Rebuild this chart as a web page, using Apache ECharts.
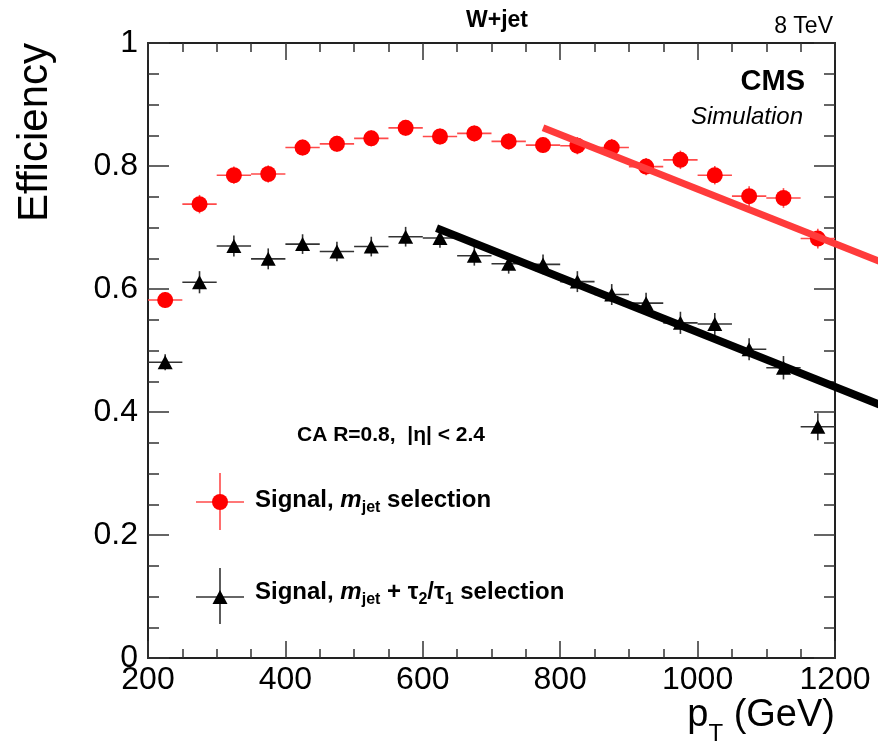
<!DOCTYPE html>
<html>
<head>
<meta charset="utf-8">
<script src="https://cdn.jsdelivr.net/npm/echarts@6/dist/echarts.min.js"></script>
<style>
html,body{margin:0;padding:0;background:#fff;}
#chart{width:878px;height:750px;}
</style>
</head>
<body>
<div id="chart"></div>
<script>
// ---- data ----
const pt = [225, 275, 325, 375, 425, 475, 525, 575, 625, 675, 725, 775, 825, 875, 925, 975, 1025, 1075, 1125, 1175];
const binHalfWidth = 25;
const effMjet = [0.582, 0.738, 0.785, 0.787, 0.830, 0.836, 0.845, 0.862, 0.848, 0.853, 0.840, 0.834, 0.833, 0.830, 0.799, 0.810, 0.785, 0.751, 0.748, 0.682];
const errMjet = [0.013, 0.015, 0.014, 0.014, 0.013, 0.013, 0.013, 0.013, 0.013, 0.013, 0.013, 0.013, 0.014, 0.014, 0.014, 0.015, 0.015, 0.016, 0.016, 0.016];
const effMjetTau = [0.481, 0.611, 0.670, 0.649, 0.673, 0.661, 0.669, 0.685, 0.683, 0.654, 0.641, 0.640, 0.612, 0.591, 0.577, 0.545, 0.543, 0.502, 0.472, 0.376];
const errMjetTau = [0.013, 0.018, 0.017, 0.017, 0.016, 0.016, 0.016, 0.016, 0.016, 0.016, 0.016, 0.016, 0.017, 0.017, 0.017, 0.018, 0.018, 0.018, 0.019, 0.022];
const fitMjetX = [775, 1265];
const fitMjetY = [0.862, 0.645];
const fitTauX = [620, 1265];
const fitTauY = [0.699, 0.412];
const xMin = 200, xMax = 1200, xStep = 200;
const yMin = 0, yMax = 1, yStep = 0.2;

const FONT = '"Liberation Sans", Arial, Helvetica, sans-serif';
const chart = echarts.init(document.getElementById('chart'), null, {renderer: 'canvas'});

function errRender(color, width) {
  return function (params, api) {
    const x = api.value(0), y = api.value(1), e = api.value(2);
    const l = api.coord([x - binHalfWidth, y]);
    const r = api.coord([x + binHalfWidth, y]);
    const t = api.coord([x, y + e]);
    const b = api.coord([x, y - e]);
    return {
      type: 'group',
      children: [
        {type: 'line', shape: {x1: l[0], y1: l[1], x2: r[0], y2: r[1]}, style: {stroke: color, lineWidth: width}},
        {type: 'line', shape: {x1: t[0], y1: t[1], x2: b[0], y2: b[1]}, style: {stroke: color, lineWidth: width}}
      ]
    };
  };
}

function fitRender(color, width) {
  return function (params, api) {
    const p1 = api.coord([api.value(0), api.value(1)]);
    const p2 = api.coord([api.value(2), api.value(3)]);
    return {
      type: 'line',
      shape: {x1: p1[0], y1: p1[1], x2: p2[0], y2: p2[1]},
      style: {stroke: color, lineWidth: width, lineCap: 'butt'}
    };
  };
}

const axisLineStyle = {color: '#222', width: 2};
const tickStyle = {color: '#333', width: 1.5};

const legendRich = {
  b: {fontFamily: FONT, fontWeight: 'bold', fontSize: 24, color: '#000'},
  i: {fontFamily: FONT, fontWeight: 'bold', fontStyle: 'italic', fontSize: 24, color: '#000'},
  s: {fontFamily: FONT, fontWeight: 'bold', fontSize: 16, color: '#000', padding: [16, 0, 0, 0]}
};

const option = {
  animation: false,
  backgroundColor: '#fff',
  title: {
    text: 'W+jet',
    left: 497,
    top: 9,
    padding: 0,
    textAlign: 'center',
    textStyle: {fontFamily: FONT, fontWeight: 'bold', fontSize: 23, color: '#000'}
  },
  grid: {left: 148, right: 43, top: 43, bottom: 92, containLabel: false, outerBoundsMode: 'none'},
  xAxis: [
    {
      type: 'value', min: xMin, max: xMax, interval: xStep, position: 'bottom',
      name: '{p|p}{s|T}{p| (GeV)}',
      nameLocation: 'end', nameGap: 0,
      nameTextStyle: {
        align: 'right', verticalAlign: 'top', padding: [28, 0, 0, 0],
        rich: {
          p: {fontFamily: FONT, fontSize: 38, color: '#000'},
          s: {fontFamily: FONT, fontSize: 24, color: '#000', padding: [36, 0, 0, 0]}
        }
      },
      axisLine: {show: true, onZero: false, lineStyle: axisLineStyle},
      axisTick: {show: true, inside: true, length: 17, lineStyle: tickStyle},
      minorTick: {show: true, splitNumber: 4, length: 9, lineStyle: tickStyle},
      axisLabel: {show: true, margin: 6, fontFamily: FONT, fontSize: 32, color: '#000', formatter: v => String(v)},
      splitLine: {show: false}
    },
    {
      type: 'value', min: xMin, max: xMax, interval: xStep, position: 'top',
      axisLine: {show: true, onZero: false, lineStyle: axisLineStyle},
      axisTick: {show: true, inside: true, length: 17, lineStyle: tickStyle},
      minorTick: {show: true, splitNumber: 4, length: 9, lineStyle: tickStyle},
      axisLabel: {show: false},
      splitLine: {show: false}
    }
  ],
  yAxis: [
    {
      type: 'value', min: yMin, max: yMax, interval: yStep, position: 'left',
      name: 'Efficiency',
      nameLocation: 'end', nameGap: 0, nameRotate: 90,
      nameTextStyle: {
        fontFamily: FONT, fontSize: 42, color: '#000',
        align: 'right', verticalAlign: 'bottom', padding: [0, 0, 92, 0]
      },
      axisLine: {show: true, onZero: false, lineStyle: axisLineStyle},
      axisTick: {show: true, inside: true, length: 21, lineStyle: tickStyle},
      minorTick: {show: true, splitNumber: 4, length: 11, lineStyle: tickStyle},
      axisLabel: {show: true, margin: 10, fontFamily: FONT, fontSize: 32, color: '#000', formatter: v => String(v)},
      splitLine: {show: false}
    },
    {
      type: 'value', min: yMin, max: yMax, interval: yStep, position: 'right',
      axisLine: {show: true, onZero: false, lineStyle: axisLineStyle},
      axisTick: {show: true, inside: true, length: 21, lineStyle: tickStyle},
      minorTick: {show: true, splitNumber: 4, length: 11, lineStyle: tickStyle},
      axisLabel: {show: false},
      splitLine: {show: false}
    }
  ],
  series: [
    {
      name: 'err mjet', type: 'custom', xAxisIndex: 0, yAxisIndex: 0, z: 2,
      renderItem: errRender('#ff4a4a', 1.6),
      encode: {x: 0, y: 1},
      data: pt.map((x, i) => [x, effMjet[i], errMjet[i]])
    },
    {
      name: 'err mjet tau', type: 'custom', xAxisIndex: 0, yAxisIndex: 0, z: 2,
      renderItem: errRender('#333', 1.6),
      encode: {x: 0, y: 1},
      data: pt.map((x, i) => [x, effMjetTau[i], errMjetTau[i]])
    },
    {
      name: 'Signal, mjet selection', type: 'scatter', z: 3,
      symbol: 'circle', symbolSize: 16,
      itemStyle: {color: '#ff0000', opacity: 1},
      data: pt.map((x, i) => [x, effMjet[i]])
    },
    {
      name: 'Signal, mjet + tau2/tau1 selection', type: 'scatter', z: 3,
      symbol: 'triangle', symbolSize: [15, 14],
      itemStyle: {color: '#000', opacity: 1},
      data: pt.map((x, i) => [x, effMjetTau[i]])
    },
    {
      name: 'fit mjet', type: 'custom', z: 5, clip: false,
      renderItem: fitRender('#ff3b3b', 7),
      encode: {x: [0, 2], y: [1, 3]},
      data: [[fitMjetX[0], fitMjetY[0], fitMjetX[1], fitMjetY[1]]]
    },
    {
      name: 'fit mjet tau', type: 'custom', z: 5, clip: false,
      renderItem: fitRender('#000', 8),
      encode: {x: [0, 2], y: [1, 3]},
      data: [[fitTauX[0], fitTauY[0], fitTauX[1], fitTauY[1]]]
    }
  ],
  graphic: [
    {type: 'text', z: 10, style: {x: 833, y: 27, text: '8 TeV', font: '23px ' + FONT, fill: '#000', textAlign: 'right', textVerticalAlign: 'middle'}},
    {type: 'text', z: 10, style: {x: 805, y: 82, text: 'CMS', font: 'bold 29px ' + FONT, fill: '#000', textAlign: 'right', textVerticalAlign: 'middle'}},
    {type: 'text', z: 10, style: {x: 803, y: 117, text: 'Simulation', font: 'italic 24px ' + FONT, fill: '#000', textAlign: 'right', textVerticalAlign: 'middle'}},
    {type: 'text', z: 10, style: {x: 391, y: 435, text: 'CA R=0.8,  |η| < 2.4', font: 'bold 21px ' + FONT, fill: '#000', textAlign: 'center', textVerticalAlign: 'middle'}},
    // legend entry 1
    {type: 'line', z: 10, shape: {x1: 196, y1: 502, x2: 244, y2: 502}, style: {stroke: '#ff4a4a', lineWidth: 1.6}},
    {type: 'line', z: 10, shape: {x1: 220, y1: 473, x2: 220, y2: 530}, style: {stroke: '#ff4a4a', lineWidth: 1.6}},
    {type: 'circle', z: 11, shape: {cx: 220, cy: 502, r: 8}, style: {fill: '#ff0000'}},
    {type: 'text', z: 10, style: {x: 255, y: 500, text: '{b|Signal, }{i|m}{s|jet}{b| selection}', rich: legendRich, textAlign: 'left', textVerticalAlign: 'middle'}},
    // legend entry 2
    {type: 'line', z: 10, shape: {x1: 196, y1: 597, x2: 244, y2: 597}, style: {stroke: '#333', lineWidth: 1.6}},
    {type: 'line', z: 10, shape: {x1: 220, y1: 568, x2: 220, y2: 624}, style: {stroke: '#333', lineWidth: 1.6}},
    {type: 'polygon', z: 11, shape: {points: [[220, 590], [227.5, 604], [212.5, 604]]}, style: {fill: '#000'}},
    {type: 'text', z: 10, style: {x: 255, y: 592, text: '{b|Signal, }{i|m}{s|jet}{b| + τ}{s|2}{b|/τ}{s|1}{b| selection}', rich: legendRich, textAlign: 'left', textVerticalAlign: 'middle'}}
  ]
};
chart.setOption(option);
</script>
</body>
</html>
